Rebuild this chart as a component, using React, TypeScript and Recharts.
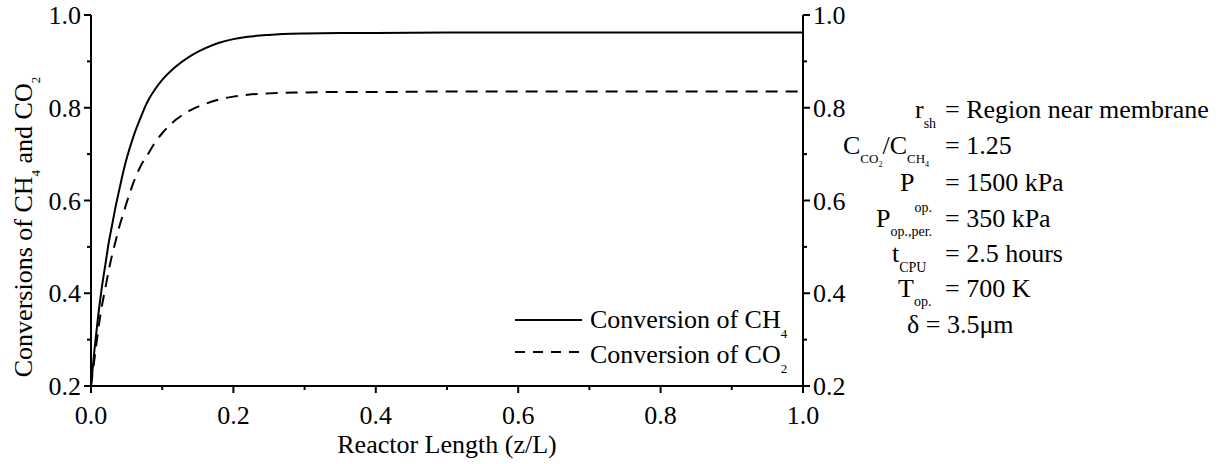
import { LineChart, Line, XAxis, YAxis, Legend } from 'recharts';

// reactor length positions (z/L) and conversions
const zPos = [0, 0.005, 0.01, 0.015, 0.02, 0.025, 0.03, 0.035, 0.04, 0.045, 0.05, 0.06, 0.07, 0.08, 0.09, 0.1, 0.12, 0.14, 0.16, 0.18, 0.2, 0.22, 0.25, 0.3, 0.35, 0.4, 0.5, 0.6, 0.7, 0.8, 0.9, 1.0];
const ch4Conv = [0.2, 0.28, 0.35, 0.41, 0.46, 0.51, 0.55, 0.59, 0.625, 0.66, 0.69, 0.74, 0.78, 0.815, 0.84, 0.86, 0.89, 0.912, 0.928, 0.94, 0.948, 0.953, 0.957, 0.96, 0.961, 0.961, 0.962, 0.962, 0.962, 0.962, 0.962, 0.962];
const co2Conv = [0.2, 0.26, 0.32, 0.37, 0.41, 0.45, 0.485, 0.515, 0.545, 0.57, 0.595, 0.64, 0.675, 0.7, 0.725, 0.745, 0.775, 0.795, 0.808, 0.818, 0.824, 0.828, 0.831, 0.833, 0.834, 0.834, 0.835, 0.835, 0.835, 0.835, 0.835, 0.835];

// major ticks get a label, the in-between ones are minor
const xTicks = [0, 0.1, 0.2, 0.3, 0.4, 0.5, 0.6, 0.7, 0.8, 0.9, 1.0];
const yTicks = [0.2, 0.3, 0.4, 0.5, 0.6, 0.7, 0.8, 0.9, 1.0];

const FONT = 'Liberation Serif, Tinos, DejaVu Serif, serif';
const MAJOR = 7;
const MINOR = 4;
const GAP_X = 13;
const GAP_Y = 3;

const chartData = zPos.map((z, i) => ({ z, ch4: ch4Conv[i], co2: co2Conv[i] }));

const axisLineStyle = { stroke: '#000', strokeWidth: 2 };
const isMajor = (v: number) => Math.round(v * 10) % 2 === 0;

const BottomTick = ({ x, y, payload }: any) => {
  const axisY = y - MAJOR - GAP_X;
  const major = isMajor(payload.value);
  return (
    <g>
      <line x1={x} x2={x} y1={axisY} y2={axisY + (major ? MAJOR : MINOR)} stroke="#000" strokeWidth={2} />
      {major && (
        <text x={x} y={y} dy="0.71em" textAnchor="middle" fontSize={26} fontFamily={FONT} fill="#000">
          {payload.value.toFixed(1)}
        </text>
      )}
    </g>
  );
};

const SideTick = ({ x, y, payload, side }: any) => {
  const dir = side === 'left' ? 1 : -1;
  const axisX = x + dir * (MAJOR + GAP_Y);
  const major = isMajor(payload.value);
  return (
    <g>
      <line y1={y} y2={y} x1={axisX} x2={axisX - dir * (major ? MAJOR : MINOR)} stroke="#000" strokeWidth={2} />
      {major && (
        <text x={x} y={y} dy="0.355em" textAnchor={side === 'left' ? 'end' : 'start'} fontSize={26} fontFamily={FONT} fill="#000">
          {payload.value.toFixed(1)}
        </text>
      )}
    </g>
  );
};

const YTitle = () => (
  <text x={32} y={227} transform="rotate(-90 32 227)" textAnchor="middle" fill="#000" style={{ fontFamily: FONT, fontSize: 26 }}>
    Conversions of CH<tspan dy={8} fontSize={13}>4</tspan>
    <tspan dy={-8} fontSize={26}> and CO</tspan>
    <tspan dy={8} fontSize={13}>2</tspan>
  </text>
);

const LegendBox = () => (
  <svg width={300} height={90} style={{ display: 'block', fontFamily: FONT }}>
    <line x1={15} y1={20} x2={82} y2={20} stroke="#000" strokeWidth={2} />
    <text x={90} y={28} fontSize={26} fill="#000">
      Conversion of CH<tspan dy={10} fontSize={13}>4</tspan>
    </text>
    <line x1={15} y1={52} x2={80} y2={52} stroke="#000" strokeWidth={2} strokeDasharray="10 8" />
    <text x={90} y={63} fontSize={26} fill="#000">
      Conversion of CO<tspan dy={10} fontSize={13}>2</tspan>
    </text>
  </svg>
);

// operating conditions box on the right
const Conditions = () => {
  const t = { fontSize: 26, fill: '#000' };
  const eqX = 945;
  return (
    <svg width={1220} height={464} style={{ position: 'absolute', left: 0, top: 0, pointerEvents: 'none', fontFamily: FONT }}>
      <text x={915} y={118} {...t}>r<tspan dy={10} fontSize={14}>sh</tspan></text>
      <text x={eqX} y={118} {...t}>= Region near membrane</text>

      <text x={843} y={154} {...t}>
        C<tspan dy={9} fontSize={13}>CO</tspan><tspan dy={4} fontSize={8}>2</tspan>
        <tspan dy={-13} fontSize={26}>/C</tspan><tspan dy={9} fontSize={13}>CH</tspan>
        <tspan dy={4} fontSize={8}>4</tspan>
      </text>
      <text x={eqX} y={154} {...t}>= 1.25</text>

      <text x={900} y={191} {...t}>P<tspan dy={21} fontSize={14}>op.</tspan></text>
      <text x={eqX} y={191} {...t}>= 1500 kPa</text>

      <text x={876} y={227} {...t}>P<tspan dy={9} fontSize={14}>op.,per.</tspan></text>
      <text x={eqX} y={227} {...t}>= 350 kPa</text>

      <text x={892} y={262} {...t}>t<tspan dy={10} fontSize={14}>CPU</tspan></text>
      <text x={eqX} y={262} {...t}>= 2.5 hours</text>

      <text x={898} y={297} {...t}>T<tspan dy={9} fontSize={14}>op.</tspan></text>
      <text x={eqX} y={297} {...t}>= 700 K</text>

      <text x={907} y={333} {...t}>δ = 3.5μm</text>
    </svg>
  );
};

export default function App() {
  return (
    <div style={{ position: 'absolute', left: 0, top: 0, width: 1220, height: 464, background: '#fff', fontFamily: FONT }}>
      <LineChart width={1220} height={464} data={chartData} margin={{ top: 15, right: 0, bottom: 0, left: 0 }}>
        <XAxis xAxisId="main" dataKey="z" type="number" domain={[0, 1]} allowDataOverflow ticks={xTicks} interval={0}
          height={78} axisLine={axisLineStyle} tickLine={false} tickSize={MAJOR} tickMargin={GAP_X}
          tick={<BottomTick />}
          label={{ value: 'Reactor Length (z/L)', position: 'insideBottom', offset: 11, fontSize: 26, fontFamily: FONT, fill: '#000' }} />
        <XAxis xAxisId="top" orientation="top" dataKey="z" type="number" domain={[0, 1]} allowDataOverflow height={0}
          axisLine={axisLineStyle} tick={false} tickLine={false} />

        <YAxis yAxisId="left" type="number" domain={[0.2, 1]} allowDataOverflow ticks={yTicks} interval={0}
          width={91} axisLine={axisLineStyle} tickLine={false} tickSize={MAJOR} tickMargin={GAP_Y}
          tick={<SideTick side="left" />} label={YTitle} />
        <YAxis yAxisId="right" orientation="right" type="number" domain={[0.2, 1]} allowDataOverflow ticks={yTicks} interval={0}
          width={417} axisLine={axisLineStyle} tickLine={false} tickSize={MAJOR} tickMargin={GAP_Y}
          tick={<SideTick side="right" />} />

        <Legend layout="horizontal" verticalAlign="middle" align="center"
          wrapperStyle={{ position: 'absolute', left: 500, top: 300, width: 300, height: 90 }}
          content={() => <LegendBox />} />

        <Line xAxisId="main" yAxisId="left" type="monotone" dataKey="ch4" name="Conversion of CH4"
          stroke="#000" strokeWidth={2} dot={false} activeDot={false} isAnimationActive={false} />
        <Line xAxisId="main" yAxisId="left" type="monotone" dataKey="co2" name="Conversion of CO2"
          stroke="#000" strokeWidth={2} strokeDasharray="12 8" dot={false} activeDot={false} isAnimationActive={false} />
      </LineChart>
      <Conditions />
    </div>
  );
}
